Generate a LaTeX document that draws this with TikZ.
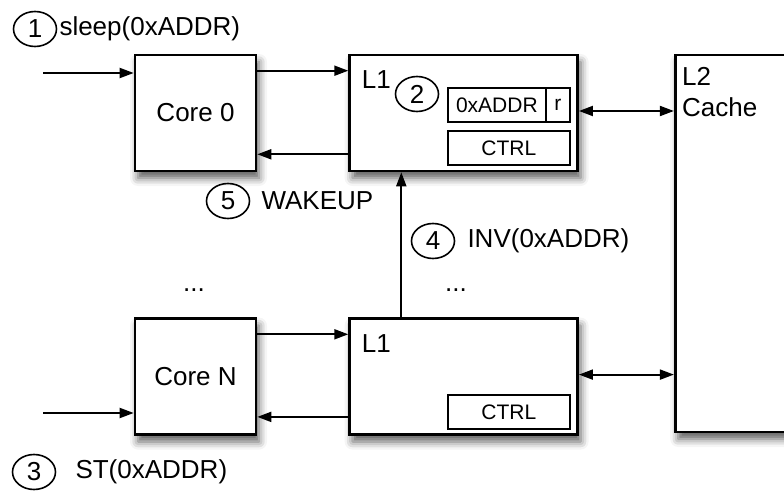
\documentclass[tikz,border=0pt]{standalone}
\usepackage{fontspec}
\setmainfont{Liberation Sans}
\usetikzlibrary{arrows.meta,positioning,shapes.geometric,shadows.blur}

\begin{document}
\begin{tikzpicture}[
    x=1pt, y=-1pt,
    >={Triangle[length=14pt,width=10pt]},
    every node/.style={font=\fontsize{26}{31}\selectfont},
    blk/.style={draw, line width=2.6pt, fill=white, inner sep=0pt,
                minimum width=#1, minimum height=116pt,
                blur shadow={shadow xshift=3pt, shadow yshift=-7pt,
                             shadow blur radius=8pt, shadow opacity=65}},
    reg/.style={draw, line width=1.9pt, fill=white, inner sep=0pt, outer sep=0pt,
                minimum width=#1, minimum height=34pt,
                font=\fontsize{21}{24}\selectfont},
    num/.style={draw, ellipse, line width=1.6pt, inner sep=0pt,
                minimum width=43pt, minimum height=35pt},
    lnk/.style={line width=1.9pt},
  ]
  \useasboundingbox (0,0) rectangle (784,494);

  % --- cores and caches ---
  \node[blk=121pt] (core0) at (195.5,113) {Core 0};
  \node[blk=228pt, right=91pt of core0] (l1a) {};
  \node[blk=121pt, below=145pt of core0] (coreN) {Core N};
  \node[blk=228pt, right=91pt of coreN] (l1b) {};
  \node[blk=150pt, minimum height=377pt, anchor=north west, xshift=95pt]
    (l2) at (l1a.north east) {};

  \node[anchor=base west] at ([xshift=10pt,yshift=-35pt]l1a.north west) {L1};
  \node[anchor=base west] at ([xshift=10pt,yshift=-35pt]l1b.north west) {L1};
  \node[anchor=north west, align=left, inner sep=0pt]
    at ([xshift=8pt,yshift=-13pt]l2.north west) {L2\\Cache};

  % --- L1 contents ---
  \node[reg=122pt, anchor=south east] (ctrlA)
    at ([xshift=-9pt,yshift=7pt]l1a.south east) {CTRL};
  \node[reg=24pt, anchor=south east] (rbit)
    at ([yshift=9pt]ctrlA.north east) {r};
  \node[reg=98pt, left=0pt of rbit] (addr) {0xADDR};
  \node[reg=122pt, anchor=south east] (ctrlB)
    at ([xshift=-9pt,yshift=7pt]l1b.south east) {CTRL};

  % --- arrows ---
  \coordinate (in0) at (43,73);
  \coordinate (inN) at (43,413);
  \draw[lnk, ->] (in0) -- (in0 -| core0.west);
  \draw[lnk, ->] ([yshift=-17pt]core0.north east) -- ([yshift=-17pt]l1a.north west);
  \draw[lnk, ->] ([yshift=18pt]l1a.south west) -- ([yshift=18pt]core0.south east);
  \draw[lnk, ->] (inN) -- (inN -| coreN.west);
  \draw[lnk, ->] ([yshift=-17pt]coreN.north east) -- ([yshift=-17pt]l1b.north west);
  \draw[lnk, ->] ([yshift=19pt]l1b.south west) -- ([yshift=19pt]coreN.south east);
  \draw[lnk, <->] ([yshift=2pt]l1a.east) -- ([yshift=2pt]l1a.east -| l2.west);
  \draw[lnk, <->] ([yshift=2pt]l1b.east) -- ([yshift=2pt]l1b.east -| l2.west);
  \draw[lnk, ->] ([xshift=53pt]l1b.north west) -- ([xshift=53pt]l1a.south west);

  % --- steps ---
  \node[num] (n1) at (35,29) {1};
  \node[inner sep=0pt, right=2pt of n1] {sleep(0xADDR)};
  \node[num] (n2) at (417,94) {2};
  \node[num] (n3) at (34,472) {3};
  \node[inner sep=0pt, right=19pt of n3] {ST(0xADDR)};
  \node[num] (n4) at (433,241) {4};
  \node[inner sep=0pt, right=12pt of n4] {INV(0xADDR)};
  \node[num] (n5) at (228,201) {5};
  \node[inner sep=0pt, right=11pt of n5] {WAKEUP};

  \node[anchor=base, inner sep=0pt] (dotsA) at (194,291) {...};
  \node[anchor=base, inner sep=0pt] (dotsB) at (456,291) {...};

\end{tikzpicture}
\end{document}
